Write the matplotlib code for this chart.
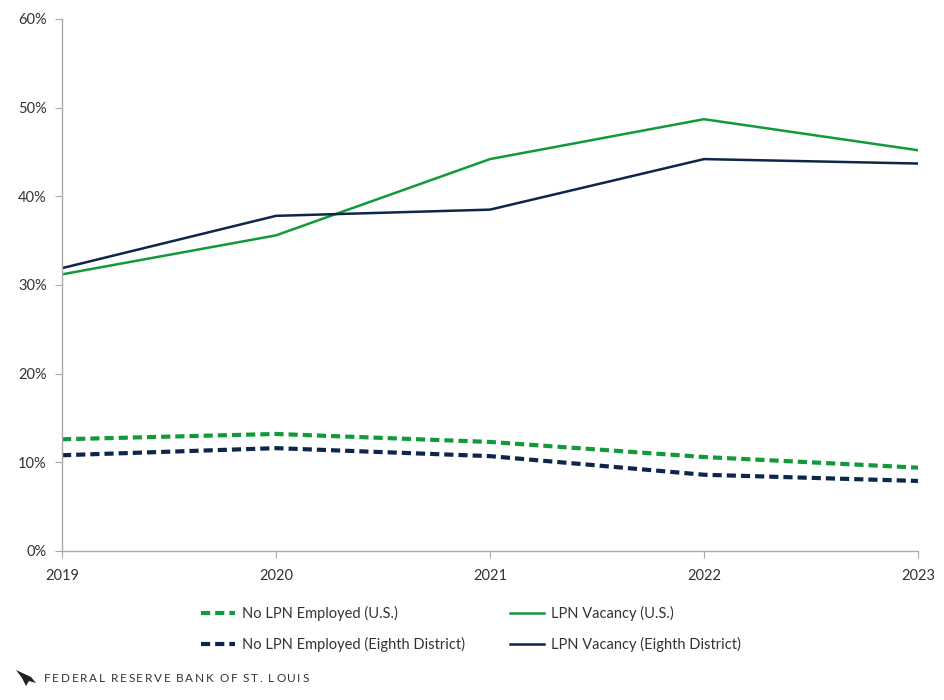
import matplotlib
matplotlib.use("Agg")
import matplotlib.pyplot as plt
from matplotlib.ticker import FuncFormatter
from matplotlib.patches import Polygon

years = [2019, 2020, 2021, 2022, 2023]
vac_us = [31.2, 35.6, 44.2, 48.7, 45.2]
vac_ed = [31.9, 37.8, 38.5, 44.2, 43.7]
nolpn_us = [12.6, 13.2, 12.3, 10.6, 9.4]
nolpn_ed = [10.8, 11.6, 10.7, 8.6, 7.9]
yticks = [0, 10, 20, 30, 40, 50, 60]
footer = "FEDERAL RESERVE BANK OF ST. LOUIS"

GREEN = "#12993a"
NAVY = "#0c2749"
TXT = "#333333"

plt.rcParams['font.family'] = ['Lato', 'DejaVu Sans']

fig = plt.figure(figsize=(9.45, 7.0), dpi=100)
ax = fig.add_axes([62/945, 1-551/700, (918-62)/945, (551-19)/700])

l1, = ax.plot(years, nolpn_us, color=GREEN, lw=3, ls=(0, (2.2, 1.2)), label="No LPN Employed (U.S.)")
l2, = ax.plot(years, nolpn_ed, color=NAVY, lw=3, ls=(0, (2.2, 1.2)), label="No LPN Employed (Eighth District)")
l3, = ax.plot(years, vac_us, color=GREEN, lw=1.8, label="LPN Vacancy (U.S.)")
l4, = ax.plot(years, vac_ed, color=NAVY, lw=1.8, label="LPN Vacancy (Eighth District)")

ax.set_xlim(years[0], years[-1])
ax.set_ylim(0, 60)
ax.set_xticks(years)
ax.set_yticks(yticks)
ax.yaxis.set_major_formatter(FuncFormatter(lambda v, p: f"{int(v)}%"))
for s in ["top", "right"]:
    ax.spines[s].set_visible(False)
for s in ["left", "bottom"]:
    ax.spines[s].set_color("#aaaaaa")
    ax.spines[s].set_linewidth(1)
ax.tick_params(axis="both", colors="#aaaaaa", labelcolor=TXT, labelsize=10.5, length=5)
ax.tick_params(axis="x", pad=8)
ax.tick_params(axis="y", pad=6)

leg = fig.legend(handles=[l1, l2, l3, l4], ncol=2, loc="upper left",
                 bbox_to_anchor=(188/945, 1-593/700), frameon=False,
                 fontsize=10.5, handlelength=2.33, columnspacing=3.1,
                 labelspacing=1.1, handletextpad=0.48)
for t in leg.get_texts():
    t.set_color(TXT)

# small eagle-like emblem
emb = Polygon([(16/945, 1-670/700), (31/945, 1-677/700), (36/945, 1-683/700),
               (29/945, 1-681/700), (26/945, 1-686/700), (22/945, 1-678/700)],
              closed=True, transform=fig.transFigure, facecolor="#222222", edgecolor="none")
fig.patches.append(emb)

# letter-spaced footer
fig.canvas.draw()
renderer = fig.canvas.get_renderer()
x = 44.0
y = 1 - 678/700
for ch in footer:
    t = fig.text(x/945, y, ch, fontsize=8.5, color=TXT, va="center", ha="left")
    w = t.get_window_extent(renderer).width if ch != " " else 2.5
    x += w + 1.7

fig.savefig("out.png", dpi=100)
